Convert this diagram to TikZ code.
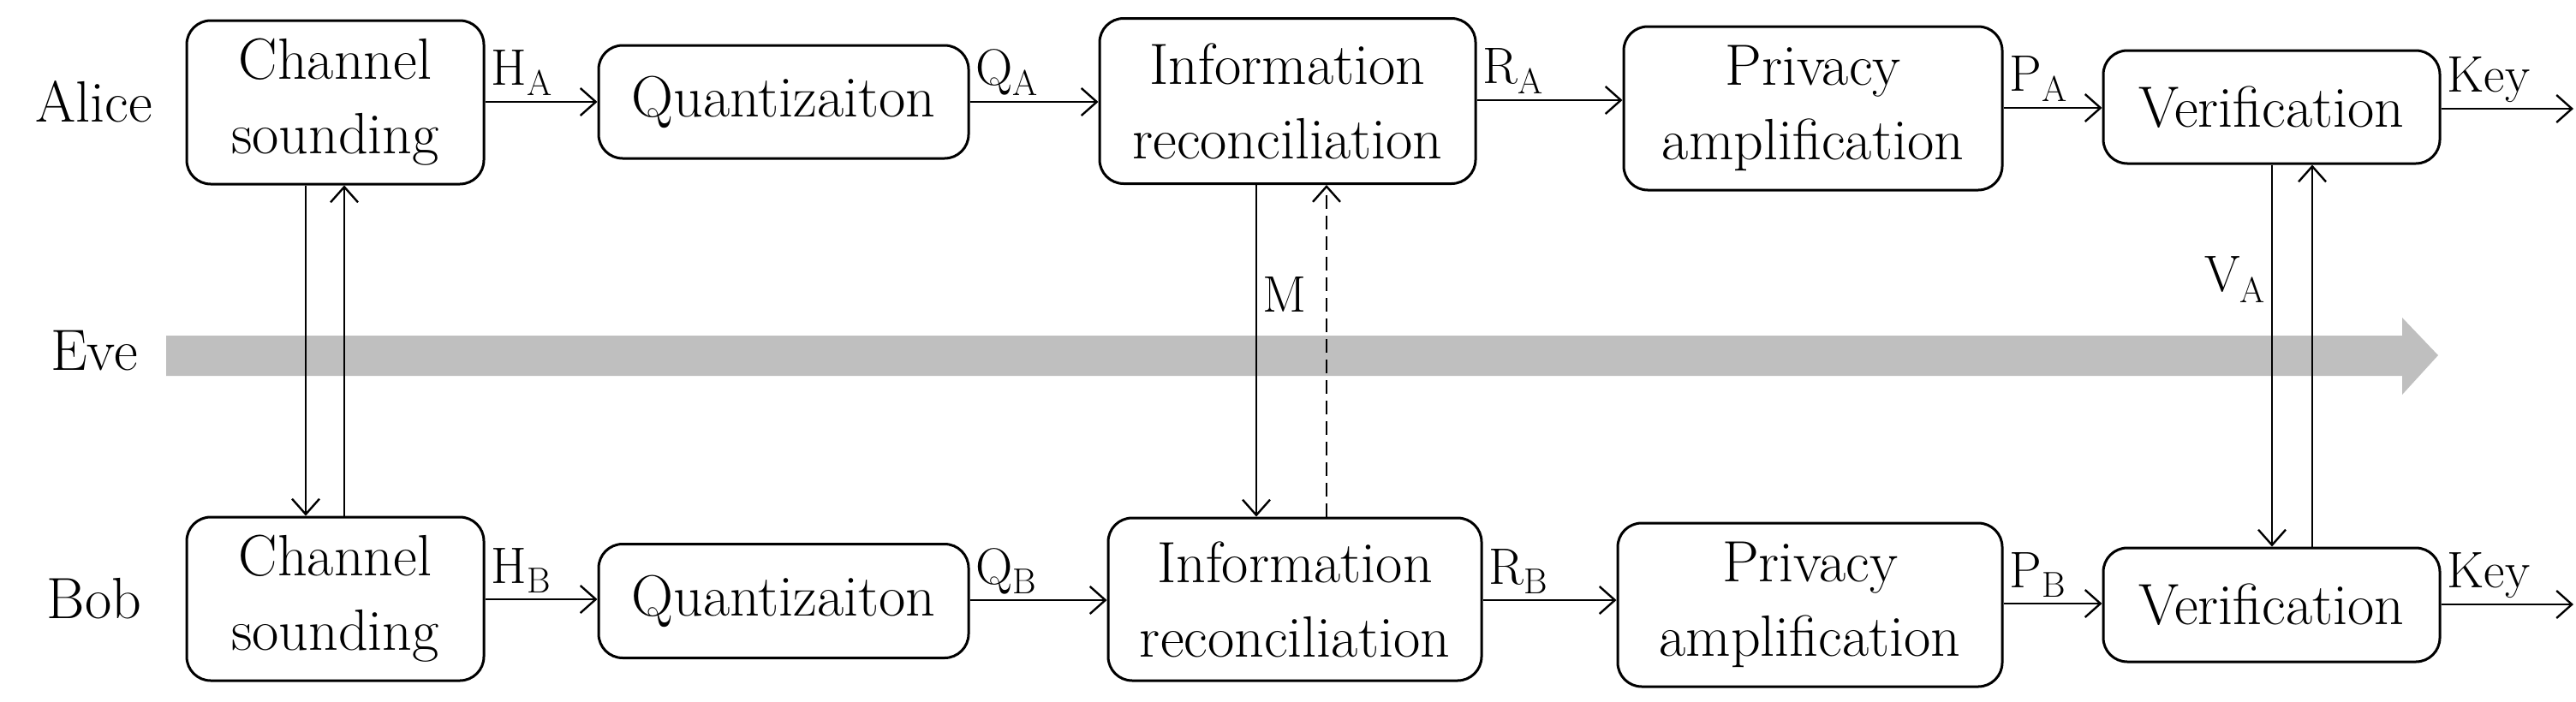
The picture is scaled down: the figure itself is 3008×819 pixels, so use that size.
\documentclass[tikz,border=0pt]{standalone}
\usetikzlibrary{arrows.meta}
\begin{document}
\begin{tikzpicture}[x=0.5pt,y=-0.5pt,
  box/.style={draw,line width=1.5pt,rounded corners=14pt,inner sep=0pt,align=center,
     font=\fontsize{34}{43.5}\selectfont},
  lab/.style={font=\fontsize{30}{36}\selectfont,inner sep=3pt},
  who/.style={font=\fontsize{34}{40}\selectfont,inner sep=0pt},
  conn/.style={line width=1.2pt,-{Straight Barb[length=9pt,width=16pt,line width=1.2pt]}}]
\useasboundingbox (0,0) rectangle (3008,819);
% Eve band
\fill[gray!50] (194,392) -- (2805,392) -- (2805,371) -- (2847,415) -- (2805,461) -- (2805,439) -- (194,439) -- cycle;
\node[who] (alice) at (110,119) {Alice};
\node[who] (bob) at (110,699) {Bob};
\node[who] (eve) at (110,410) {Eve};
% Alice row
\node[box,minimum width=173.5pt,minimum height=95.5pt] (csA) at (391.5,119.5) {Channel\\sounding};
\node[box,minimum width=216pt,minimum height=66pt] (qA) at (915,119) {Quantizaiton};
\node[box,minimum width=219.5pt,minimum height=96.5pt] (irA) at (1503.5,118) {Information\\reconciliation};
\node[box,minimum width=221pt,minimum height=95.5pt] (paA) at (2117,126.5) {Privacy\\amplification};
\node[box,minimum width=196.5pt,minimum height=66pt] (vA) at (2652.5,125) {Verification};
\coordinate (kA) at (3005,127);
% Bob row
\node[box,minimum width=173.5pt,minimum height=95.5pt] (csB) at (391.5,699.5) {Channel\\sounding};
\node[box,minimum width=216pt,minimum height=66.5pt] (qB) at (915,702) {Quantizaiton};
\node[box,minimum width=218pt,minimum height=95pt] (irB) at (1512,700) {Information\\reconciliation};
\node[box,minimum width=224.5pt,minimum height=95.5pt] (paB) at (2113.5,706.5) {Privacy\\amplification};
\node[box,minimum width=196.5pt,minimum height=66.5pt] (vB) at (2652.5,706.5) {Verification};
\coordinate (kB) at (3005,706);
% horizontal arrows
\draw[conn] (csA.east|-0,119) -- (qA.west|-0,119) node[lab,pos=0,anchor=south west] {H\textsubscript{A}};
\draw[conn] (qA.east|-0,119) -- (irA.west|-0,119) node[lab,pos=0,anchor=south west] {Q\textsubscript{A}};
\draw[conn] (irA.east|-0,117) -- (paA.west|-0,117) node[lab,pos=0,anchor=south west] {R\textsubscript{A}};
\draw[conn] (paA.east|-0,126) -- (vA.west|-0,126) node[lab,pos=0,anchor=south west] {P\textsubscript{A}};
\draw[conn] (vA.east|-kA) -- (kA) node[lab,pos=0,anchor=south west] {Key};
\draw[conn] (csB.east|-0,700) -- (qB.west|-0,700) node[lab,pos=0,anchor=south west] {H\textsubscript{B}};
\draw[conn] (qB.east|-0,701) -- (irB.west|-0,701) node[lab,pos=0,anchor=south west] {Q\textsubscript{B}};
\draw[conn] (irB.east|-0,701) -- (paB.west|-0,701) node[lab,pos=0,anchor=south west] {R\textsubscript{B}};
\draw[conn] (paB.east|-0,705) -- (vB.west|-0,705) node[lab,pos=0,anchor=south west] {P\textsubscript{B}};
\draw[conn] (vB.east|-kB) -- (kB) node[lab,pos=0,anchor=south west] {Key};
% vertical arrows
\draw[conn] (csA.south-|357,0) -- (csB.north-|357,0);
\draw[conn] (csB.north-|402,0) -- (csA.south-|402,0);
\draw[conn] (irA.south-|1467,0) -- (irB.north-|1467,0) node[lab,pos=0.33,anchor=west] {M};
\draw[conn,dash pattern=on 8pt off 4pt] (irB.north-|1549,0) -- (irA.south-|1549,0);
\draw[conn] (vA.south-|2653,0) -- (vB.north-|2653,0) node[lab,pos=0.3,anchor=east] {V\textsubscript{A}};
\draw[conn] (vB.north-|2700,0) -- (vA.south-|2700,0);
\end{tikzpicture}
\end{document}
